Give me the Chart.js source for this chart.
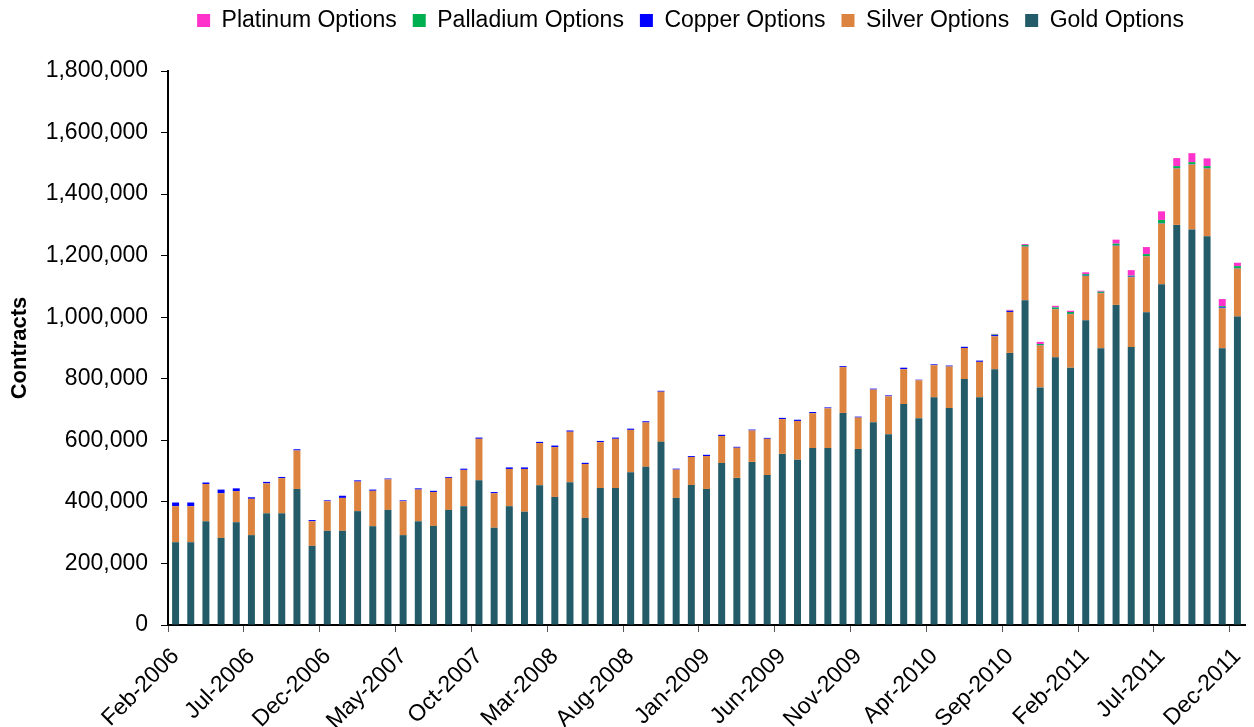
<!DOCTYPE html>
<html>
<head>
<meta charset="utf-8">
<script src="https://cdn.jsdelivr.net/npm/chart.js@4.4.1/dist/chart.umd.min.js"></script>
<style>
  html, body { margin: 0; padding: 0; background: #fff; }
</style>
</head>
<body>
<canvas id="chart" width="1254" height="727"></canvas>
<script>
const months = [
  "Feb-2006", "Mar-2006", "Apr-2006", "May-2006", "Jun-2006", "Jul-2006", "Aug-2006", "Sep-2006", "Oct-2006", "Nov-2006", "Dec-2006",
  "Jan-2007", "Feb-2007", "Mar-2007", "Apr-2007", "May-2007", "Jun-2007", "Jul-2007", "Aug-2007", "Sep-2007", "Oct-2007", "Nov-2007", "Dec-2007",
  "Jan-2008", "Feb-2008", "Mar-2008", "Apr-2008", "May-2008", "Jun-2008", "Jul-2008", "Aug-2008", "Sep-2008", "Oct-2008", "Nov-2008", "Dec-2008",
  "Jan-2009", "Feb-2009", "Mar-2009", "Apr-2009", "May-2009", "Jun-2009", "Jul-2009", "Aug-2009", "Sep-2009", "Oct-2009", "Nov-2009", "Dec-2009",
  "Jan-2010", "Feb-2010", "Mar-2010", "Apr-2010", "May-2010", "Jun-2010", "Jul-2010", "Aug-2010", "Sep-2010", "Oct-2010", "Nov-2010", "Dec-2010",
  "Jan-2011", "Feb-2011", "Mar-2011", "Apr-2011", "May-2011", "Jun-2011", "Jul-2011", "Aug-2011", "Sep-2011", "Oct-2011", "Nov-2011", "Dec-2011"
];

const gold = [
  269000, 269000, 337000, 283000, 334000, 292000, 363000, 363000, 442000, 257000, 306000,
  306000, 370000, 321000, 374000, 292000, 337000, 322000, 374000, 386000, 470000, 316000, 386000,
  368000, 454000, 416000, 464000, 348000, 445000, 445000, 496000, 514000, 595000, 413000, 455000,
  442000, 526000, 478000, 530000, 487000, 556000, 537000, 575000, 575000, 689000, 572000, 659000,
  620000, 718000, 672000, 740000, 705000, 799000, 740000, 831000, 884000, 1055000, 772000, 870000,
  836000, 990000, 899000, 1040000, 903000, 1016000, 1107000, 1300000, 1285000, 1263000, 899000, 1002000
];

const silver = [
  117000, 117000, 121000, 145000, 101000, 118000, 97000, 114000, 125000, 80000, 96000,
  107000, 96000, 115000, 99000, 110000, 103000, 110000, 104000, 118000, 135000, 112000, 121000,
  139000, 137000, 162000, 164000, 175000, 149000, 160000, 138000, 144000, 163000, 92000, 91000,
  107000, 88000, 98000, 102000, 118000, 113000, 126000, 113000, 129000, 149000, 102000, 106000,
  123000, 113000, 123000, 104000, 135000, 101000, 115000, 107000, 133000, 174000, 136000, 156000,
  174000, 144000, 179000, 192000, 227000, 182000, 197000, 183000, 211000, 220000, 130000, 156000
];

const copper = [
  12000, 12000, 5000, 12000, 9000, 5000, 5000, 4000, 4000, 4000, 3000,
  7000, 4000, 4000, 3000, 3000, 4000, 4000, 3000, 4000, 4000, 4000, 5000,
  5000, 4000, 5000, 4000, 4000, 4000, 4000, 4000, 4000, 3000, 3000, 3000,
  4000, 4000, 3000, 3000, 3000, 4000, 4000, 4000, 3000, 3000, 3000, 3000,
  3000, 5000, 2000, 3000, 3000, 4000, 4000, 4000, 3000, 1000, 1000, 1000,
  1000, 1000, 1000, 1000, 2000, 1000, 1000, 1000, 1000, 1000, 3000, 1000
];

const palladium = [
  0, 0, 0, 0, 0, 0, 0, 0, 0, 0, 0,
  0, 0, 0, 0, 0, 0, 0, 0, 0, 0, 0, 0,
  0, 0, 0, 0, 0, 0, 0, 0, 0, 0, 0, 0,
  0, 0, 0, 0, 0, 0, 0, 0, 0, 0, 0, 0,
  0, 0, 0, 0, 0, 0, 0, 2000, 1000, 5000, 4000, 5000,
  6000, 5000, 4000, 6000, 3000, 6000, 11000, 7000, 7000, 7000, 4000, 7000
];

const platinum = [
  0, 0, 0, 0, 0, 0, 0, 0, 0, 0, 0,
  0, 0, 0, 0, 0, 0, 0, 0, 0, 0, 0, 0,
  0, 0, 0, 0, 0, 0, 0, 0, 0, 0, 0, 0,
  0, 0, 0, 0, 0, 0, 0, 0, 0, 0, 0, 0,
  0, 0, 0, 0, 0, 0, 0, 2000, 3000, 3000, 7000, 5000,
  4000, 6000, 3000, 13000, 18000, 23000, 28000, 26000, 29000, 25000, 23000, 11000
];

const yTicks = [0, 200000, 400000, 600000, 800000, 1000000, 1200000, 1400000, 1600000, 1800000];

Chart.defaults.font.family = "'Liberation Sans', Arial, sans-serif";
Chart.defaults.font.size = 23;
Chart.defaults.color = "#000";

// the original legend sits higher and further right than Chart.js puts it
const legendShift = {
  id: "legendShift",
  afterLayout(chart) {
    const lg = chart.legend;
    lg.left += 68;
    lg.right += 68;
    lg.top -= 29;
    lg.bottom -= 29;
  }
};

function bar(label, data, color) {
  return {
    label: label,
    data: data,
    backgroundColor: color,
    borderWidth: 0,
    categoryPercentage: 1,
    barPercentage: 0.46
  };
}

new Chart(document.getElementById("chart"), {
  type: "bar",
  data: {
    labels: months,
    datasets: [
      bar("Gold Options", gold, "#245B69"),
      bar("Silver Options", silver, "#DC843F"),
      bar("Copper Options", copper, "#0000FF"),
      bar("Palladium Options", palladium, "#00B050"),
      bar("Platinum Options", platinum, "#FF33CC")
    ]
  },
  plugins: [legendShift],
  options: {
    responsive: false,
    animation: false,
    layout: { padding: { top: 22, right: 9, bottom: 0, left: 0 } },
    plugins: {
      legend: {
        reverse: true,
        labels: { boxWidth: 13, boxHeight: 13, padding: 16, color: "#000" }
      },
      tooltip: { enabled: false }
    },
    scales: {
      x: {
        stacked: true,
        afterFit(scale) {
          scale.height = 102;
          scale.paddingLeft = 0;
          scale.paddingRight = 0;
        },
        border: { color: "#000", width: 2 },
        grid: {
          drawOnChartArea: false,
          tickLength: 7,
          tickColor: (ctx) => (ctx.index % 5 === 0 ? "#555" : "rgba(0,0,0,0)")
        },
        ticks: {
          autoSkip: false,
          maxRotation: 45,
          minRotation: 45,
          labelOffset: 0,
          padding: 11,
          callback(value, index) {
            return index % 5 === 0 ? months[index] : "";
          }
        }
      },
      y: {
        stacked: true,
        min: 0,
        max: 1800000,
        afterFit(scale) { scale.width = 168; },
        afterBuildTicks(scale) { scale.ticks = yTicks.map(v => ({ value: v })); },
        border: { color: "#000", width: 2 },
        grid: { drawOnChartArea: false, tickLength: 7, tickColor: "#000" },
        ticks: {
          padding: 13,
          callback: (v) => v.toLocaleString("en-US")
        },
        title: {
          display: true,
          text: "Contracts",
          font: { weight: "bold", size: 22 },
          padding: { top: 7, bottom: 0 }
        }
      }
    }
  }
});
</script>
</body>
</html>
